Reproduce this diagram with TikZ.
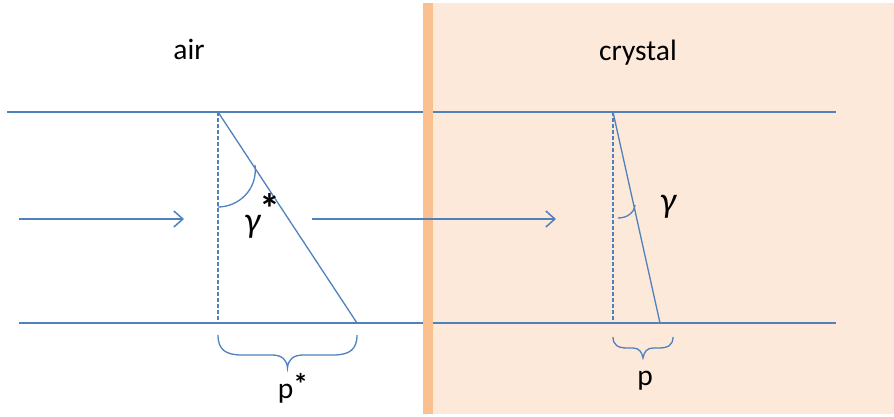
\documentclass[tikz,border=0pt]{standalone}
\usepackage{fontspec}
\setmainfont{Carlito}
\usetikzlibrary{arrows.meta}
\definecolor{lineblue}{RGB}{79,129,189}
\definecolor{crystalfill}{RGB}{253,233,217}
\definecolor{barorange}{RGB}{250,192,144}
\tikzset{
  ray/.style={draw=lineblue, line width=1.6pt},
  thin ray/.style={draw=lineblue, line width=1.3pt},
  dashline/.style={draw=lineblue, line width=1.3pt, dash pattern=on 4pt off 2pt},
  beam/.style={draw=lineblue, line width=1.6pt, -{Straight Barb[length=9pt,width=16pt,line width=1.5pt]}},
  label/.style={inner sep=0pt, font=\fontsize{29.5}{34}\selectfont, anchor=base},
  mlabel/.style={inner sep=0pt, font=\fontsize{36}{40}\selectfont\itshape, anchor=base}
}
\begin{document}
\begin{tikzpicture}[x=1pt,y=-1pt]
\useasboundingbox (0,0) rectangle (894,417);
% crystal region
\fill[crystalfill] (433,3) rectangle (894,414);
% boundary lines
\coordinate (tl) at (7,112);
\coordinate (tr) at (836,112);
\coordinate (bl) at (19,323);
\coordinate (br) at (836,323);
\draw[ray] (tl) -- (tr);
\draw[ray] (bl) -- (br);
% interface bar
\fill[barorange] (423,3) rectangle (433,414);
% beams
\coordinate (a1s) at (19,219);
\coordinate (a1e) at (184,219);
\coordinate (a2s) at (312,219);
\coordinate (a2e) at (556,219);
\draw[beam] (a1s) -- (a1e);
\draw[beam] (a2s) -- (a2e);
% air triangle
\coordinate (at) at (218,112);
\coordinate (ab) at (218,323);
\coordinate (as) at (357,323);
\draw[dashline] (at) -- (ab);
\draw[thin ray] (at) -- (as);
\coordinate (aa1) at (218,207);
\coordinate (aa2) at (255,165);
\draw[thin ray] (aa1) .. controls (238,207) and (258,190) .. (aa2);
% crystal triangle
\coordinate (ct) at (613,112);
\coordinate (cb) at (613,323);
\coordinate (cs) at (660,323);
\draw[dashline] (ct) -- (cb);
\draw[thin ray] (ct) -- (cs);
\coordinate (ca1) at (618,218);
\coordinate (ca2) at (635,205);
\draw[thin ray] (ca1) .. controls (627,218) and (634,213) .. (ca2);
% braces
\coordinate (b1l) at (218,335);
\coordinate (b1r) at (357,335);
\coordinate (b1t) at (287.5,368);
\draw[thin ray] (b1l) .. controls (218,350) and (226,355) .. (242,355) -- (272,355)
  .. controls (282,355) and (287,360) .. (b1t)
  .. controls (288,360) and (293,355) .. (303,355) -- (333,355)
  .. controls (349,355) and (357,350) .. (b1r);
\coordinate (b2l) at (613,337);
\coordinate (b2r) at (673,337);
\coordinate (b2t) at (643,358);
\draw[thin ray] (b2l) .. controls (613,345) and (618,348) .. (627,348) -- (633,348)
  .. controls (639,348) and (642,352) .. (b2t)
  .. controls (644,352) and (647,348) .. (653,348) -- (659,348)
  .. controls (668,348) and (673,345) .. (b2r);
% labels
\node[label] (air) at (189,60) {air};
\node[label] (crystal) at (638,61) {crystal};
\node[mlabel] (gs) at (262,232) {γ\kern-1pt\raisebox{9pt}{\upshape\fontsize{42}{44}\selectfont\textbf{*}}};
\node[mlabel] (g) at (668,212) {γ};
\node[label] (ps) at (293,398) {p\raisebox{4pt}{\textbf{*}}};
\node[label] (p) at (645,385) {p};
\end{tikzpicture}
\end{document}
